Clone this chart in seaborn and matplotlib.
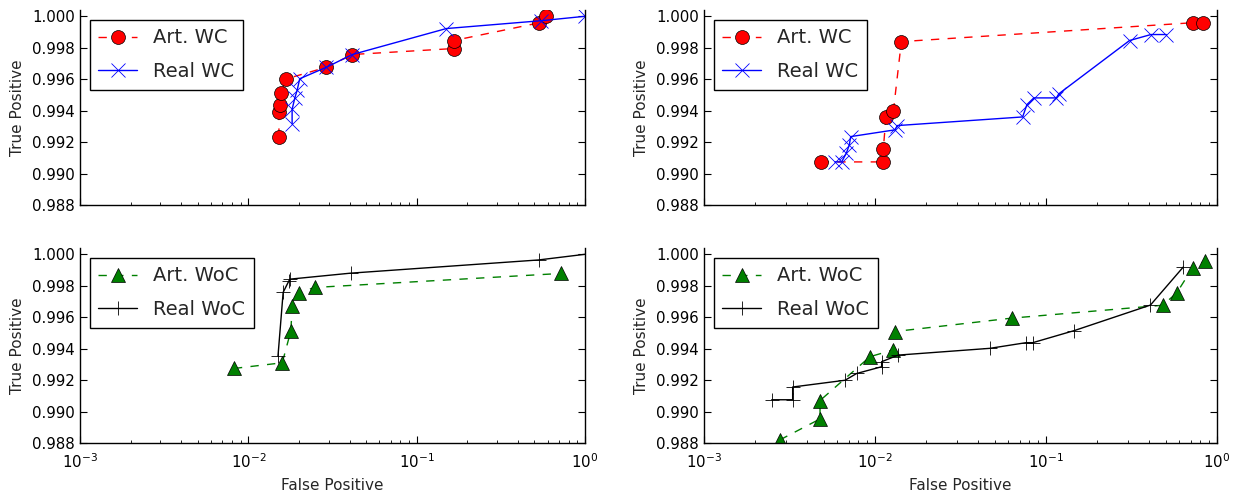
import matplotlib
matplotlib.use("Agg")
import matplotlib.pyplot as plt
import seaborn as sns
from matplotlib.ticker import FixedLocator, FormatStrFormatter

# ---------------- data ----------------
# top-left
tl_art_fp = [0.0152, 0.0152, 0.0155, 0.0157, 0.0168, 0.0291, 0.0415, 0.1665, 0.1665, 0.532, 0.588]
tl_art_tp = [0.99234, 0.99390, 0.99433, 0.99513, 0.99602, 0.99676, 0.99757, 0.99795, 0.99846, 0.99958, 1.0000]
tl_real_fp = [0.0182, 0.0182, 0.0189, 0.0195, 0.0202, 0.0291, 0.0415, 0.150, 0.55, 1.0]
tl_real_tp = [0.99317, 0.99408, 0.99482, 0.99530, 0.99603, 0.99676, 0.99757, 0.99922, 0.99972, 1.0]

# top-right
tr_art_fp = [0.00481, 0.01118, 0.01118, 0.01159, 0.0128, 0.01426, 0.720, 0.833]
tr_art_tp = [0.99074, 0.99074, 0.99156, 0.99357, 0.99395, 0.99839, 0.99959, 0.99959]
tr_real_fp = [0.00583, 0.00638, 0.00680, 0.00707, 0.00721, 0.0131, 0.01349, 0.0730, 0.0774,
              0.0849, 0.1151, 0.1188, 0.308, 0.411, 0.505]
tr_real_tp = [0.99074, 0.99074, 0.99130, 0.99181, 0.99235, 0.99278, 0.99305, 0.99360, 0.99439,
              0.99481, 0.99481, 0.99507, 0.99846, 0.99884, 0.99884]

# bottom-left
bl_art_fp = [0.00821, 0.0159, 0.0179, 0.0182, 0.0199, 0.0248, 0.716]
bl_art_tp = [0.99274, 0.99310, 0.99514, 0.99672, 0.99756, 0.99789, 0.99878]
bl_real_fp = [0.0150, 0.0161, 0.0174, 0.0177, 0.0405, 0.53, 1.0]
bl_real_tp = [0.99352, 0.99758, 0.99830, 0.99842, 0.99880, 0.99964, 1.0]

# bottom-right
br_art_fp = [0.00278, 0.00477, 0.00477, 0.00935, 0.0127, 0.0131, 0.0629, 0.481, 0.581, 0.721, 0.851]
br_art_tp = [0.98820, 0.98953, 0.99070, 0.99349, 0.99391, 0.99509, 0.99594, 0.99676, 0.99754, 0.99915, 0.99958]
br_real_fp = [0.00249, 0.0033, 0.0033, 0.00668, 0.00781, 0.01094, 0.01094, 0.01368, 0.0470,
              0.0764, 0.0837, 0.1465, 0.408, 0.635]
br_real_tp = [0.99075, 0.99075, 0.99156, 0.99199, 0.99242, 0.99285, 0.99317, 0.99359, 0.99402,
              0.99438, 0.99438, 0.99515, 0.99677, 0.99919]

y_ticks = [0.988, 0.990, 0.992, 0.994, 0.996, 0.998, 1.000]
x_label = "False Positive"
y_label = "True Positive"

# ---------------- style ----------------
sns.set_style("ticks")
plt.rcParams['font.family'] = ['DejaVu Sans']
plt.rcParams['mathtext.default'] = 'regular'

W, H = 1238, 495
fig = plt.figure(figsize=(W / 100, H / 100), dpi=100)

def rect(x0, x1, ytop, ybot):
    return [x0 / W, 1 - ybot / H, (x1 - x0) / W, (ybot - ytop) / H]

ax_tl = fig.add_axes(rect(80, 585, 10, 205))
ax_tr = fig.add_axes(rect(704, 1217, 10, 205))
ax_bl = fig.add_axes(rect(80, 585, 248, 443))
ax_br = fig.add_axes(rect(704, 1217, 248, 443))

DASH = (0, (6, 6))

def series(ax, x, y, label, color, marker, ls, mfc, mec, mew, ms=10):
    sns.lineplot(x=x, y=y, ax=ax, sort=False, estimator=None, color=color,
                 linestyle=ls, linewidth=1.0, marker=marker, markersize=ms,
                 markerfacecolor=mfc, markeredgecolor=mec, markeredgewidth=mew,
                 label=label)

series(ax_tl, tl_art_fp, tl_art_tp, "Art. WC", "#ff0000", "o", DASH, "#ff0000", "black", 0.5)
series(ax_tl, tl_real_fp, tl_real_tp, "Real WC", "#0000ff", "x", "-", "#0000ff", "#0000ff", 0.6)
series(ax_tr, tr_art_fp, tr_art_tp, "Art. WC", "#ff0000", "o", DASH, "#ff0000", "black", 0.5)
series(ax_tr, tr_real_fp, tr_real_tp, "Real WC", "#0000ff", "x", "-", "#0000ff", "#0000ff", 0.6)
series(ax_bl, bl_art_fp, bl_art_tp, "Art. WoC", "#008000", "^", DASH, "#008000", "black", 0.5)
series(ax_bl, bl_real_fp, bl_real_tp, "Real WoC", "black", "+", "-", "black", "black", 0.6)
series(ax_br, br_art_fp, br_art_tp, "Art. WoC", "#008000", "^", DASH, "#008000", "black", 0.5)
series(ax_br, br_real_fp, br_real_tp, "Real WoC", "black", "+", "-", "black", "black", 0.6)

for ax in (ax_tl, ax_tr, ax_bl, ax_br):
    ax.set_xscale('log')
    ax.set_xlim(1e-3, 1.0)
    ax.set_ylim(0.988, 1.0004)
    ax.yaxis.set_major_locator(FixedLocator(y_ticks))
    ax.yaxis.set_major_formatter(FormatStrFormatter('%.3f'))
    ax.spines['top'].set_visible(False)
    for s in ('left', 'right', 'bottom'):
        ax.spines[s].set_color('black')
        ax.spines[s].set_linewidth(1.0)
    ax.tick_params(which='both', direction='in', top=False, right=True, left=True, bottom=True,
                   colors='black', labelsize=10.8)
    ax.tick_params(which='major', length=5, width=0.8)
    ax.tick_params(which='minor', length=2.5, width=0.6)
    ax.tick_params(axis='x', which='both', pad=7)
    ax.set_ylabel(y_label, fontsize=11)
    ax.set_xlabel("")
    leg = ax.legend(loc='upper left', fontsize=14, numpoints=1, fancybox=False,
                    frameon=True, framealpha=1.0, edgecolor='black', borderaxespad=0.5,
                    handlelength=2.0, labelspacing=0.75, borderpad=0.45)
    leg.get_frame().set_linewidth(1.0)

for ax in (ax_tl, ax_tr):
    ax.tick_params(labelbottom=False)
for ax in (ax_bl, ax_br):
    ax.set_xlabel(x_label, fontsize=11, labelpad=5)

ax_tl.yaxis.set_label_coords(-0.109, 0.5)
ax_bl.yaxis.set_label_coords(-0.109, 0.5)
ax_tr.yaxis.set_label_coords(-0.107, 0.5)
ax_br.yaxis.set_label_coords(-0.107, 0.5)

fig.savefig("out.png", dpi=100)
